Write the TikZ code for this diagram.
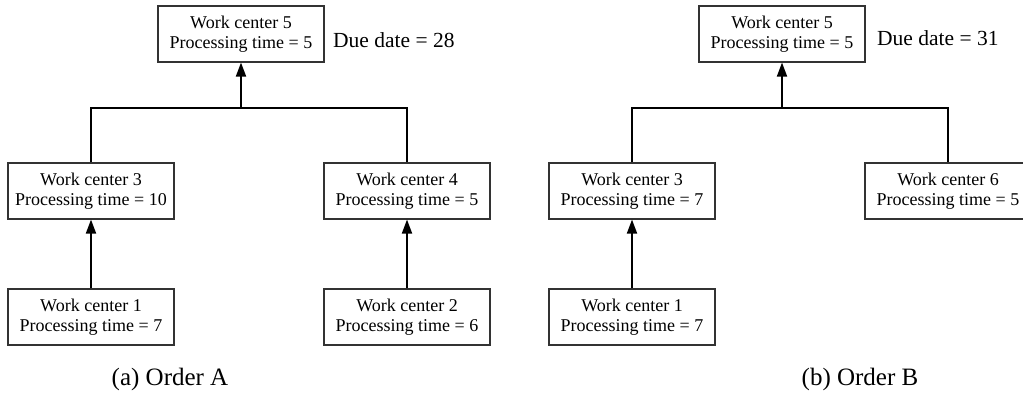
\documentclass[tikz,border=0pt]{standalone}
\usepackage{fontspec}
\setmainfont{Liberation Serif}
\usetikzlibrary{arrows.meta}
\begin{document}
\begin{tikzpicture}[x=1pt,y=-1pt,
  wcbox/.style={draw=black!80, line width=1.1pt, minimum width=166pt, minimum height=56pt,
    align=center, inner sep=0pt, font=\rmfamily\fontsize{18}{20}\selectfont},
  conn/.style={line width=1.8pt},
  flow/.style={conn, -{Triangle[length=14pt,width=10pt]}},
  duetext/.style={anchor=base west, inner sep=0pt, font=\rmfamily\fontsize{21.5}{24}\selectfont},
  captext/.style={anchor=base, inner sep=0pt, font=\rmfamily\fontsize{25}{28}\selectfont}]
\clip (0,0) rectangle (1023,394);

% Order A
\node[wcbox] (A5) at (241,34) {Work center 5\\Processing time = 5};
\node[wcbox] (A3) at (91,191) {Work center 3\\Processing time = 10};
\node[wcbox] (A4) at (407,191) {Work center 4\\Processing time = 5};
\node[wcbox] (A1) at (91,317) {Work center 1\\Processing time = 7};
\node[wcbox] (A2) at (407,317) {Work center 2\\Processing time = 6};
\node[duetext] (dueA) at (333,47) {Due date = 28};
\coordinate (jA) at (241,108);
\draw[conn] (A3.north) |- (jA) -| (A4.north);
\draw[flow] (jA) -- (A5.south);
\draw[flow] (A1.north) -- (A3.south);
\draw[flow] (A2.north) -- (A4.south);
\node[captext] (capA) at (170,385) {(a) Order A};

% Order B
\node[wcbox] (B5) at (782,34) {Work center 5\\Processing time = 5};
\node[wcbox] (B3) at (632,191) {Work center 3\\Processing time = 7};
\node[wcbox] (B6) at (948,191) {Work center 6\\Processing time = 5};
\node[wcbox] (B1) at (632,317) {Work center 1\\Processing time = 7};
\node[duetext] (dueB) at (877,45) {Due date = 31};
\coordinate (jB) at (782,108);
\draw[conn] (B3.north) |- (jB) -| (B6.north);
\draw[flow] (jB) -- (B5.south);
\draw[flow] (B1.north) -- (B3.south);
\node[captext] (capB) at (860,385) {(b) Order B};
\end{tikzpicture}
\end{document}
